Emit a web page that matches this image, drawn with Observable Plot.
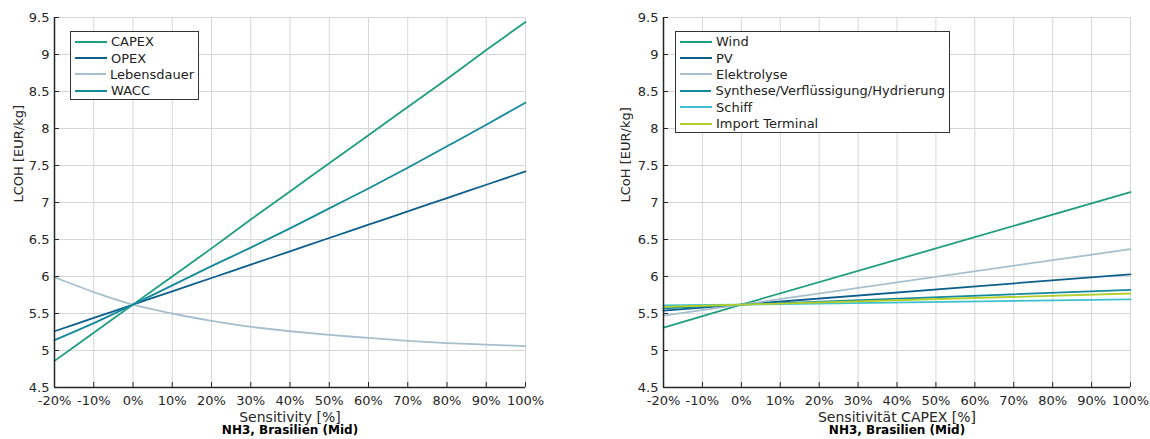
<!DOCTYPE html>
<html>
<head>
<meta charset="utf-8">
<script src="https://cdn.jsdelivr.net/npm/d3@7"></script>
<script src="https://cdn.jsdelivr.net/npm/@observablehq/plot@0.6"></script>
<style>
  html, body { margin: 0; padding: 0; background: #fff; }
  #wrap { position: relative; width: 1150px; height: 439px; display: flex; flex-direction: row; }
  .legend { position: absolute; background: #fff; border: 1.3px solid #333; box-sizing: border-box; padding: 1.5px 4px 0 4px; font-family: "DejaVu Sans", sans-serif; font-size: 13px; color: #222; }
  .legend .row { display: flex; align-items: center; height: 16.4px; white-space: nowrap; }
  .legend .sw { width: 32px; height: 0; border-top: 2px solid; margin-right: 4px; }
</style>
</head>
<body>
<div id="wrap"></div>
<script>
// ---- data ----
const xTicks = [-20, -10, 0, 10, 20, 30, 40, 50, 60, 70, 80, 90, 100];
const yTicks = [4.5, 5, 5.5, 6, 6.5, 7, 7.5, 8, 8.5, 9, 9.5];

// Left panel: sensitivity of parameters
const leftSeries = ["CAPEX", "OPEX", "Lebensdauer", "WACC"];
const leftColors = ["#1f9e80", "#0d5f8c", "#a7bfcd", "#14889c"];
const sensX = [-20, -10, 0, 10, 20, 30, 40, 50, 60, 70, 80, 90, 100];
const capexVals = [4.86, 5.24, 5.62, 6.00, 6.38, 6.77, 7.15, 7.53, 7.91, 8.29, 8.67, 9.06, 9.44];
const opexVals = [5.26, 5.44, 5.62, 5.80, 5.98, 6.16, 6.34, 6.52, 6.70, 6.88, 7.06, 7.24, 7.42];
const lebensVals = [5.99, 5.79, 5.62, 5.50, 5.40, 5.32, 5.26, 5.21, 5.17, 5.13, 5.10, 5.08, 5.06];
const waccVals = [5.14, 5.37, 5.62, 5.88, 6.14, 6.39, 6.65, 6.92, 7.19, 7.47, 7.76, 8.05, 8.35];

// Right panel: CAPEX sensitivity per component
const rightSeries = ["Wind", "PV", "Elektrolyse", "Synthese/Verflüssigung/Hydrierung", "Schiff", "Import Terminal"];
const rightColors = ["#1f9e80", "#0d5f8c", "#a7bfcd", "#14889c", "#3fc0cf", "#b3cf2b"];
const capX = [-20, 0, 100];
const windVals = [5.31, 5.62, 7.14];
const pvVals = [5.54, 5.62, 6.03];
const elekVals = [5.47, 5.62, 6.37];
const syntVals = [5.57, 5.62, 5.82];
const schiffVals = [5.61, 5.62, 5.69];
const importVals = [5.59, 5.62, 5.77];

// ---- build tables ----
function table(names, xs, valsList) {
  const rows = [];
  names.forEach((n, i) => valsList[i].forEach((v, j) => rows.push({series: n, x: xs[j], y: v})));
  return rows;
}
const leftData = table(leftSeries, sensX, [capexVals, opexVals, lebensVals, waccVals]);
const rightData = table(rightSeries, capX, [windVals, pvVals, elekVals, syntVals, schiffVals, importVals]);

const H = 439, MT = 17, MB = 52;

function panel({data, names, colors, width, marginLeft, marginRight, yLabel, xLabel, yLabelDx}) {
  const frameW = width - marginLeft - marginRight;
  const frameH = H - MT - MB;
  return Plot.plot({
    width, height: H,
    marginTop: MT, marginBottom: MB, marginLeft, marginRight,
    style: {fontFamily: "DejaVu Sans, sans-serif", fontSize: "13px", color: "#262626", background: "white"},
    x: {domain: [-20, 100]},
    y: {domain: [4.5, 9.5]},
    color: {domain: names, range: colors},
    marks: [
      // grid
      Plot.tickX(xTicks, {x: d => d, stroke: "#d6d6d6", strokeWidth: 1}),
      Plot.tickY(yTicks, {y: d => d, stroke: "#d6d6d6", strokeWidth: 1}),
      // axes labels
      Plot.axisX(xTicks, {tickFormat: d => d + "%", tickSize: 0, tickPadding: 8, label: null, fontSize: 13}),
      Plot.axisY(yTicks, {tickFormat: d => String(d), tickSize: 0, tickPadding: 5, label: null, fontSize: 13}),
      // inward tick marks
      Plot.tickX(xTicks, {x: d => d, insetTop: frameH - 5, stroke: "#262626", strokeWidth: 1}),
      Plot.tickY(yTicks, {y: d => d, insetRight: frameW - 5, stroke: "#262626", strokeWidth: 1}),
      // data
      Plot.line(data, {x: "x", y: "y", z: "series", stroke: "series", strokeWidth: 1.8, curve: "monotone-x"}),
      // axis lines
      Plot.ruleX([-20], {stroke: "#262626", strokeWidth: 1.5}),
      Plot.ruleY([4.5], {stroke: "#262626", strokeWidth: 1.5}),
      // titles
      Plot.text([yLabel], {frameAnchor: "left", rotate: -90, dx: yLabelDx, fontSize: 13, fill: "#262626"}),
      Plot.text([xLabel], {frameAnchor: "bottom", lineAnchor: "middle", dy: 30, fontSize: 14, fill: "#262626"}),
      Plot.text(["NH3, Brasilien (Mid)"], {frameAnchor: "bottom", lineAnchor: "middle", dy: 43, fontSize: 12, fontWeight: "bold", fill: "#000"})
    ]
  });
}

const wrap = document.getElementById("wrap");
const left = panel({data: leftData, names: leftSeries, colors: leftColors, width: 575, marginLeft: 54, marginRight: 50,
  yLabel: "LCOH [EUR/kg]", xLabel: "Sensitivity [%]", yLabelDx: -36});
wrap.appendChild(left);
const right = panel({data: rightData, names: rightSeries, colors: rightColors, width: 575, marginLeft: 88, marginRight: 20,
  yLabel: "LCoH [EUR/kg]", xLabel: "Sensitivität CAPEX [%]", yLabelDx: -38});
wrap.appendChild(right);

function legend(names, colors, left, top, width) {
  const d = document.createElement("div");
  d.className = "legend";
  d.style.left = left + "px"; d.style.top = top + "px"; d.style.width = width + "px";
  names.forEach((n, i) => {
    const r = document.createElement("div"); r.className = "row";
    const s = document.createElement("span"); s.className = "sw"; s.style.borderTopColor = colors[i];
    const t = document.createElement("span"); t.textContent = n;
    r.appendChild(s); r.appendChild(t); d.appendChild(r);
  });
  wrap.appendChild(d);
}
legend(leftSeries, leftColors, 70, 31, 129);
legend(rightSeries, rightColors, 675, 31, 275);
</script>
</body>
</html>
